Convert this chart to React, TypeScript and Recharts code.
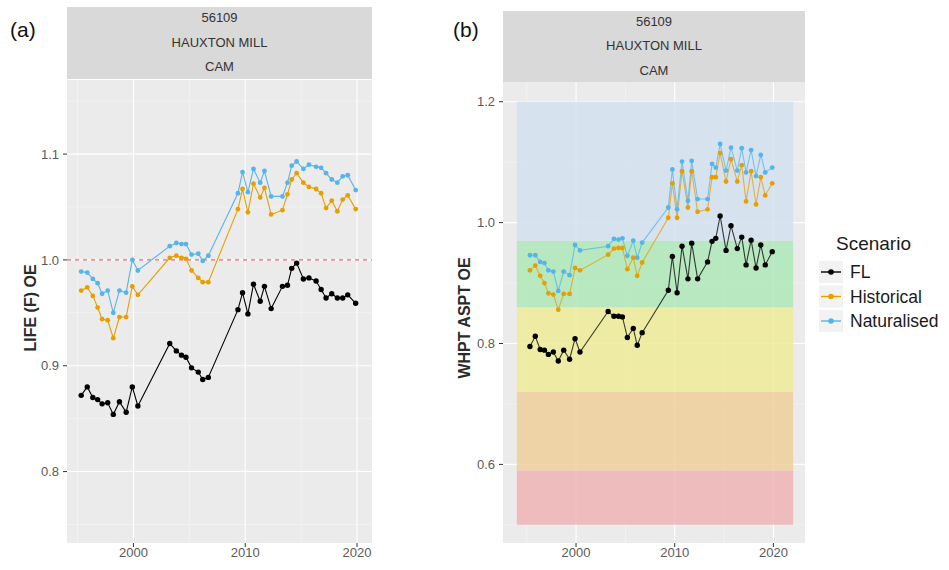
import React from 'react';
import {
  LineChart, Line, XAxis, YAxis, CartesianGrid, ReferenceLine, ReferenceArea,
} from 'recharts';

// Sampling dates (decimal years), shared by both panels
const sampleYears = [
  1995.33, 1995.87, 1996.37, 1996.8, 1997.2, 1997.7, 1998.2, 1998.75, 1999.35, 1999.9, 2000.4,
  2003.25, 2003.84, 2004.3, 2004.7, 2005.2, 2005.8, 2006.2, 2006.7,
  2009.35, 2009.76, 2010.24, 2010.74, 2011.34, 2011.72, 2012.32, 2013.33, 2013.78, 2014.16,
  2014.6, 2015.2, 2015.7, 2016.34, 2016.79, 2017.23, 2017.74, 2018.24, 2018.72, 2019.17, 2019.88,
];

// Panel (a): LIFE (F) OE
const lifeFL = [
  0.872, 0.880, 0.870, 0.868, 0.864, 0.865, 0.854, 0.866, 0.856, 0.880, 0.862,
  0.921, 0.914, 0.910, 0.908, 0.898, 0.894, 0.887, 0.889,
  0.953, 0.969, 0.949, 0.977, 0.961, 0.975, 0.954, 0.975, 0.976, 0.992, 0.997,
  0.982, 0.983, 0.980, 0.972, 0.964, 0.968, 0.964, 0.964, 0.967, 0.959,
];
const lifeHistorical = [
  0.971, 0.974, 0.966, 0.955, 0.944, 0.943, 0.926, 0.946, 0.946, 0.975, 0.967,
  1.002, 1.004, 1.002, 1.001, 0.990, 0.983, 0.979, 0.979,
  1.048, 1.067, 1.045, 1.072, 1.059, 1.068, 1.043, 1.047, 1.062, 1.076, 1.082,
  1.073, 1.069, 1.067, 1.063, 1.049, 1.056, 1.046, 1.057, 1.061, 1.048,
];
const lifeNaturalised = [
  0.989, 0.988, 0.982, 0.978, 0.968, 0.971, 0.950, 0.971, 0.969, 1.000, 0.990,
  1.013, 1.016, 1.015, 1.015, 1.005, 1.006, 0.999, 1.004,
  1.063, 1.083, 1.064, 1.086, 1.073, 1.084, 1.060, 1.060, 1.073, 1.089, 1.093,
  1.086, 1.090, 1.088, 1.087, 1.082, 1.076, 1.073, 1.079, 1.080, 1.066,
];

// Panel (b): WHPT ASPT OE
const whptFL = [
  0.795, 0.812, 0.790, 0.789, 0.782, 0.786, 0.771, 0.789, 0.774, 0.808, 0.786,
  0.853, 0.845, 0.845, 0.844, 0.810, 0.825, 0.797, 0.818,
  0.888, 0.944, 0.884, 0.961, 0.907, 0.966, 0.907, 0.935, 0.969, 0.974, 1.011,
  0.954, 0.995, 0.957, 0.976, 0.930, 0.971, 0.925, 0.963, 0.930, 0.952,
];
const whptHistorical = [
  0.921, 0.929, 0.912, 0.900, 0.883, 0.881, 0.856, 0.882, 0.882, 0.925, 0.921,
  0.947, 0.957, 0.958, 0.958, 0.923, 0.942, 0.912, 0.934,
  1.008, 1.065, 1.008, 1.085, 1.025, 1.085, 1.018, 1.022, 1.075, 1.075, 1.115,
  1.068, 1.105, 1.068, 1.095, 1.035, 1.085, 1.030, 1.075, 1.045, 1.065,
];
const whptNaturalised = [
  0.946, 0.946, 0.935, 0.933, 0.921, 0.919, 0.887, 0.919, 0.913, 0.963, 0.954,
  0.961, 0.973, 0.972, 0.974, 0.945, 0.970, 0.942, 0.967,
  1.025, 1.088, 1.022, 1.101, 1.036, 1.102, 1.039, 1.039, 1.097, 1.091, 1.130,
  1.086, 1.124, 1.086, 1.123, 1.083, 1.120, 1.077, 1.112, 1.083, 1.091,
];

// Status class bands for WHPT ASPT (bottom, top)
const bandLimits = [
  [0.5, 0.59],
  [0.59, 0.72],
  [0.72, 0.86],
  [0.86, 0.97],
  [0.97, 1.2],
];
const bandColors = ['#eeb4b4', '#eecf9a', '#eeec98', '#aee8b8', '#d2e0ee'];

const stripLines = ['56109', 'HAUXTON MILL', 'CAM'];
const xTicks = [2000, 2010, 2020];
const xMinor = [1995, 2005, 2015];
const yTicksA = [0.8, 0.9, 1.0, 1.1];
const yMinorA = [0.75, 0.85, 0.95, 1.05, 1.15];
const yTicksB = [0.6, 0.8, 1.0, 1.2];
const yMinorB = [0.5, 0.7, 0.9, 1.1];
const scenarios = ['FL', 'Historical', 'Naturalised'];
const scenarioColors = ['#000000', '#E69F00', '#56B4E9'];

const dataA = sampleYears.map((x, i) => ({ x, fl: lifeFL[i], hist: lifeHistorical[i], nat: lifeNaturalised[i] }));
const dataB = sampleYears.map((x, i) => ({ x, fl: whptFL[i], hist: whptHistorical[i], nat: whptNaturalised[i] }));

const FONT = "'Liberation Sans', Arial, Helvetica, sans-serif";
const tickStyle = { fill: '#5a5a5a', fontSize: 13, fontFamily: FONT };
const fmt = (v: number) => v.toFixed(1);

function Strip({ left, top, width, height }: { left: number; top: number; width: number; height: number }) {
  return (
    <div style={{
      position: 'absolute', left, top, width, height, background: '#d9d9d9',
      fontFamily: FONT, fontSize: 13, color: '#333', textAlign: 'center',
      display: 'flex', flexDirection: 'column', justifyContent: 'center', lineHeight: '24.5px',
    }}>
      {stripLines.map((s) => <div key={s}>{s}</div>)}
    </div>
  );
}

export default function App() {
  return (
    <div style={{ position: 'absolute', left: 0, top: 0, width: 949, height: 570, background: '#ffffff', overflow: 'hidden' }}>
      {/* Panel (a) */}
      <div style={{ position: 'absolute', left: 0, top: 0 }}>
        <LineChart width={380} height={570} data={dataA} margin={{ top: 80, right: 8, bottom: 7, left: 0 }}>
          <CartesianGrid fill="#ebebeb" stroke="#f6f6f6" strokeWidth={0.6} horizontalValues={yMinorA} verticalValues={xMinor} />
          <CartesianGrid stroke="#ffffff" strokeWidth={1.1} horizontalValues={yTicksA} verticalValues={xTicks} />
          <XAxis dataKey="x" type="number" domain={[1994.06, 2021.34]} allowDataOverflow ticks={xTicks}
            axisLine={false} tickSize={4} tickMargin={1} height={20} tick={tickStyle} tickLine={{ stroke: '#333' }} />
          <YAxis type="number" domain={[0.7325, 1.17]} allowDataOverflow ticks={yTicksA} tickFormatter={fmt}
            axisLine={false} tickSize={4} tickMargin={4} width={67} tick={tickStyle} tickLine={{ stroke: '#333' }} />
          <ReferenceLine y={1} stroke="#f03c3c" strokeDasharray="4 4" strokeWidth={1} />
          <Line dataKey="fl" stroke="#000" strokeWidth={1.1} dot={{ r: 2.7, fill: '#000', stroke: 'none' }} isAnimationActive={false} />
          <Line dataKey="hist" stroke="#E69F00" strokeWidth={1.1} dot={{ r: 2.4, fill: '#E69F00', stroke: 'none' }} isAnimationActive={false} />
          <Line dataKey="nat" stroke="#56B4E9" strokeWidth={1.1} dot={{ r: 2.4, fill: '#56B4E9', stroke: 'none' }} isAnimationActive={false} />
        </LineChart>
      </div>

      {/* Panel (b) */}
      <div style={{ position: 'absolute', left: 440, top: 0 }}>
        <LineChart width={373} height={570} data={dataB} margin={{ top: 82, right: 8, bottom: 7, left: 0 }}>
          <CartesianGrid fill="#ebebeb" stroke="#f6f6f6" strokeWidth={0.6} horizontalValues={yMinorB} verticalValues={xMinor} />
          <CartesianGrid stroke="#ffffff" strokeWidth={1.1} horizontalValues={yTicksB} verticalValues={xTicks} />
          <XAxis dataKey="x" type="number" domain={[1992.6, 2023.2]} allowDataOverflow ticks={xTicks}
            axisLine={false} tickSize={4} tickMargin={1} height={20} tick={tickStyle} tickLine={{ stroke: '#333' }} />
          <YAxis type="number" domain={[0.47, 1.2326]} allowDataOverflow ticks={yTicksB} tickFormatter={fmt}
            axisLine={false} tickSize={4} tickMargin={4} width={63} tick={tickStyle} tickLine={{ stroke: '#333' }} />
          {bandLimits.map(([y1, y2], i) => (
            <ReferenceArea key={i} x1={1994} x2={2022} y1={y1} y2={y2} fill={bandColors[i]} fillOpacity={0.85} stroke="none" />
          ))}
          <Line dataKey="fl" stroke="#000" strokeOpacity={0.75} strokeWidth={1.1} dot={{ r: 2.7, fill: '#000', stroke: 'none', fillOpacity: 1 }} isAnimationActive={false} />
          <Line dataKey="hist" stroke="#E69F00" strokeOpacity={0.75} strokeWidth={1.1} dot={{ r: 2.4, fill: '#E69F00', stroke: 'none', fillOpacity: 1 }} isAnimationActive={false} />
          <Line dataKey="nat" stroke="#56B4E9" strokeOpacity={0.75} strokeWidth={1.1} dot={{ r: 2.4, fill: '#56B4E9', stroke: 'none', fillOpacity: 1 }} isAnimationActive={false} />
        </LineChart>
      </div>

      <Strip left={67} top={7} width={305} height={72} />
      <Strip left={503} top={11} width={302} height={71} />

      {/* Text overlay: panel tags, axis titles, legend */}
      <svg width={949} height={570} style={{ position: 'absolute', left: 0, top: 0, pointerEvents: 'none' }}>
        <text x={10} y={37} fontFamily={FONT} fontSize={21} fill="#111">(a)</text>
        <text x={453} y={37} fontFamily={FONT} fontSize={21} fill="#111">(b)</text>
        <text x={0} y={0} transform="translate(36,308) rotate(-90)" textAnchor="middle"
          fontFamily={FONT} fontSize={16} fontWeight="bold" fill="#2a2a2a">LIFE (F) OE</text>
        <text x={0} y={0} transform="translate(470,318) rotate(-90)" textAnchor="middle"
          fontFamily={FONT} fontSize={16} fontWeight="bold" fill="#2a2a2a">WHPT ASPT OE</text>

        <text x={836} y={250} fontFamily={FONT} fontSize={19} fill="#1a1a1a">Scenario</text>
        {scenarios.map((s, i) => {
          const cy = 272 + i * 24.5;
          return (
            <g key={s}>
              <rect x={819} y={cy - 11} width={24} height={22} fill="#f2f2f2" />
              <line x1={821} x2={841} y1={cy} y2={cy} stroke={scenarioColors[i]} strokeWidth={1.4} />
              <circle cx={831} cy={cy} r={2.8} fill={scenarioColors[i]} />
              <text x={850} y={cy + 6} fontFamily={FONT} fontSize={17.5} fill="#1a1a1a">{s}</text>
            </g>
          );
        })}
      </svg>
    </div>
  );
}
